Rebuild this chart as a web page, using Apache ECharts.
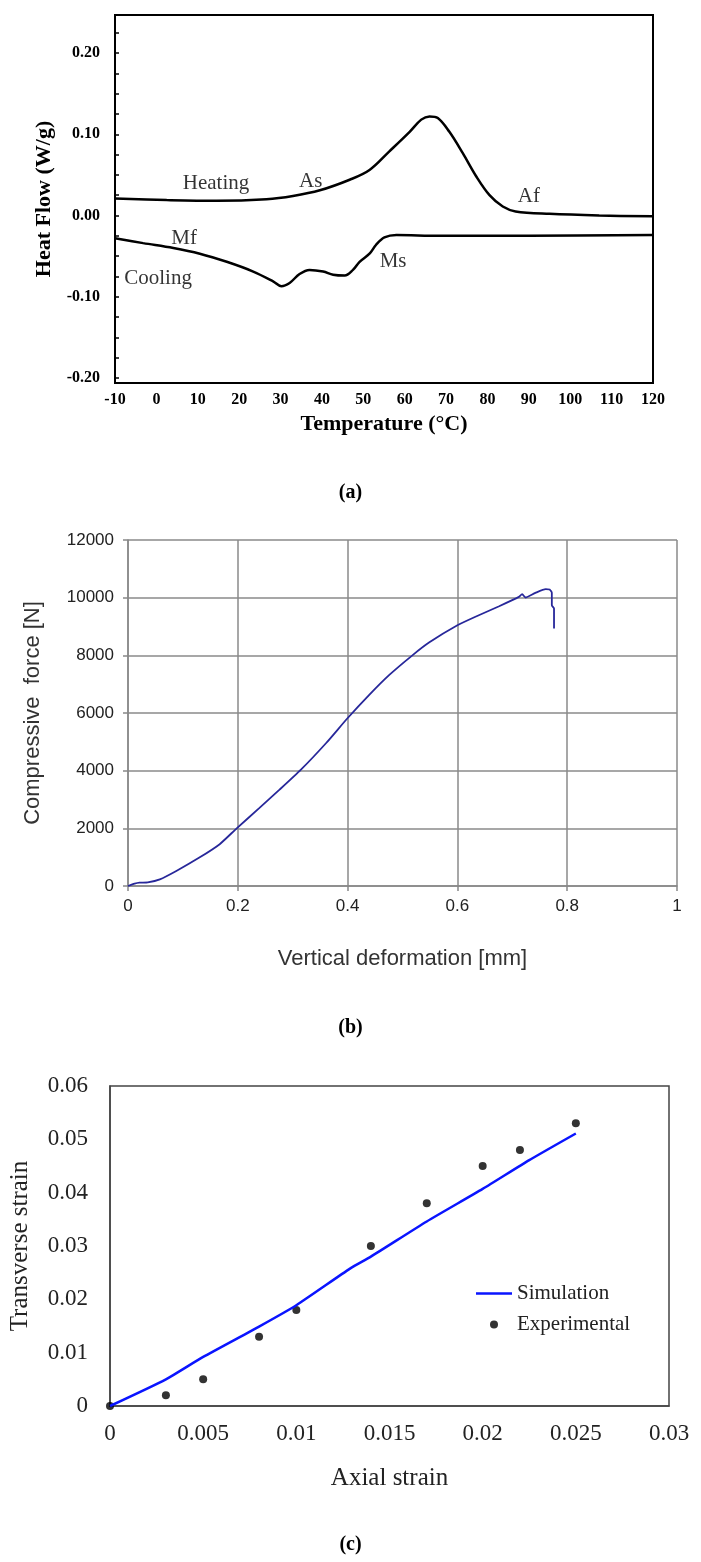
<!DOCTYPE html>
<html><head><meta charset="utf-8">
<script src="https://cdn.jsdelivr.net/npm/echarts@6/dist/echarts.min.js"></script>
<style>html,body{margin:0;padding:0;background:#fff}#c{width:701px;height:1562px}</style>
</head><body><div id="c"></div>
<script>
// ---------- Panel (a): DSC ----------
const tempHeating = [-10, 2.5, 14.5, 26.6, 33, 39.5, 46.7, 51.5, 56.3, 61.2, 64, 66, 68, 70.8, 74, 77.3, 80.5, 83.7, 86.8, 95, 107, 120];
const flowHeating = [0.021, 0.019, 0.018, 0.020, 0.024, 0.031, 0.044, 0.056, 0.079, 0.103, 0.118, 0.122, 0.120, 0.103, 0.077, 0.048, 0.025, 0.011, 0.005, 0.002, 0.000, -0.001];
const tempCooling = [-10, -3.2, 4.1, 10.5, 17, 23.4, 28.2, 30.2, 32.2, 34.6, 37, 40.3, 42.7, 45.5, 47.5, 49.1, 51.5, 53.1, 55.1, 58, 68.4, 90, 120];
const flowCooling = [-0.028, -0.034, -0.040, -0.047, -0.057, -0.069, -0.081, -0.087, -0.083, -0.072, -0.067, -0.069, -0.073, -0.074, -0.067, -0.057, -0.047, -0.036, -0.027, -0.024, -0.025, -0.025, -0.024];
const flowTickLabels = [-0.2, -0.1, 0, 0.1, 0.2];
const flowMinorTicks = [-0.2, -0.175, -0.15, -0.125, -0.1, -0.075, -0.05, -0.025, 0, 0.025, 0.05, 0.075, 0.1, 0.125, 0.15, 0.175, 0.2, 0.225];
const noteText = ['Heating', 'As', 'Af', 'Mf', 'Cooling', 'Ms'];
const noteTemp = [14.4, 37.3, 90, 6.7, 0.4, 57.2];
const noteFlow = [0.040, 0.042, 0.023, -0.028, -0.077, -0.057];

// ---------- Panel (b): compression ----------
const deformation = [0, 0.012, 0.021, 0.036, 0.058, 0.088, 0.130, 0.167, 0.198, 0.239, 0.276, 0.315, 0.361, 0.399, 0.439, 0.476, 0.518, 0.549, 0.600, 0.639, 0.676, 0.712, 0.718, 0.724, 0.742, 0.761, 0.768, 0.772, 0.772, 0.776, 0.776];
const force = [0, 81, 116, 128, 232, 522, 985, 1450, 2000, 2700, 3340, 4035, 4960, 5800, 6620, 7320, 8000, 8450, 9043, 9391, 9704, 10027, 10121, 10006, 10167, 10295, 10284, 10167, 9739, 9623, 8928];

// ---------- Panel (c): strain ----------
const simAxial = [0, 0.003, 0.005, 0.008, 0.010, 0.0129, 0.014, 0.017, 0.020, 0.0225, 0.025];
const simTransverse = [0, 0.0050, 0.0092, 0.0149, 0.0189, 0.0258, 0.0280, 0.0346, 0.0407, 0.0461, 0.0511];
const expAxial = [0, 0.003, 0.005, 0.008, 0.010, 0.014, 0.017, 0.020, 0.022, 0.025];
const expTransverse = [0, 0.002, 0.005, 0.013, 0.018, 0.030, 0.038, 0.045, 0.048, 0.053];

const zip = (a, b) => a.map((v, i) => [v, b[i]]);
const SERIF = 'Liberation Serif';
const SANS = 'Liberation Sans';
const captionStyle = {rich: {p: {fontFamily: SERIF, fontSize: 20, color: '#000'}, b: {fontFamily: SERIF, fontSize: 20, fontWeight: 'bold', color: '#000'}}};

const chart = echarts.init(document.getElementById('c'), null, {renderer: 'canvas'});
chart.setOption({
  animation: false,
  backgroundColor: '#fff',
  title: [
    {text: '{p|(}{b|a}{p|)}', left: 'center', top: 478, textStyle: captionStyle},
    {text: '{p|(}{b|b}{p|)}', left: 'center', top: 1013, textStyle: captionStyle},
    {text: '{p|(}{b|c}{p|)}', left: 'center', top: 1530, textStyle: captionStyle}
  ],
  legend: {
    left: 471, top: 1278, orient: 'vertical', itemWidth: 36, itemHeight: 8, itemGap: 10,
    textStyle: {fontFamily: SERIF, fontSize: 21, color: '#222'},
    data: [
      {name: 'Simulation', icon: 'path://M0,0H36V2.5H0Z', itemStyle: {color: '#0a14ff'}},
      {name: 'Experimental', icon: 'circle', itemStyle: {color: '#000'}}
    ]
  },
  grid: [
    {left: 115, top: 15, width: 538, height: 368, show: true, borderColor: '#000', borderWidth: 2, backgroundColor: 'transparent'},
    {left: 128, top: 540, width: 549, height: 346},
    {left: 110, top: 1086, width: 559, height: 320, show: true, borderColor: '#444', borderWidth: 1.5, backgroundColor: 'transparent'}
  ],
  xAxis: [
    {gridIndex: 0, type: 'value', min: -10, max: 120, interval: 10,
     name: 'Temperature (°C)', nameLocation: 'middle', nameGap: 30,
     nameTextStyle: {fontFamily: SERIF, fontWeight: 'bold', fontSize: 22, color: '#000'},
     axisLine: {onZero: false, lineStyle: {color: '#000', width: 2}}, axisTick: {show: false}, splitLine: {show: false},
     axisLabel: {fontFamily: SERIF, fontWeight: 'bold', fontSize: 16, color: '#000', margin: 9}},
    {gridIndex: 1, type: 'value', min: 0, max: 1, interval: 0.2,
     name: 'Vertical deformation [mm]', nameLocation: 'middle', nameGap: 62,
     nameTextStyle: {fontFamily: SANS, fontSize: 22, color: '#333'},
     axisLine: {onZero: false, lineStyle: {color: '#888', width: 1.5}}, axisTick: {show: true, length: 5, lineStyle: {color: '#888', width: 1.5}},
     splitLine: {show: true, lineStyle: {color: '#8a8a8a', width: 1.5}},
     axisLabel: {fontFamily: SANS, fontSize: 17, color: '#222', margin: 12}},
    {gridIndex: 2, type: 'value', min: 0, max: 0.03, interval: 0.005,
     name: 'Axial strain', nameLocation: 'middle', nameGap: 60,
     nameTextStyle: {fontFamily: SERIF, fontSize: 25, color: '#222'},
     axisLine: {onZero: false, lineStyle: {color: '#444', width: 1.5}}, axisTick: {show: false}, splitLine: {show: false},
     axisLabel: {fontFamily: SERIF, fontSize: 23, color: '#222', margin: 16}}
  ],
  yAxis: [
    {gridIndex: 0, type: 'value', min: -0.2062, max: 0.2468,
     name: 'Heat Flow (W/g)', nameLocation: 'middle', nameGap: 57,
     nameTextStyle: {fontFamily: SERIF, fontWeight: 'bold', fontSize: 22, color: '#000'},
     axisLine: {show: true, onZero: false, lineStyle: {color: '#000', width: 2}},
     axisTick: {show: true, inside: true, length: 4, customValues: flowMinorTicks, lineStyle: {color: '#000', width: 1.5}},
     splitLine: {show: false},
     axisLabel: {customValues: flowTickLabels, formatter: v => v.toFixed(2), fontFamily: SERIF, fontWeight: 'bold', fontSize: 16, color: '#000', margin: 15}},
    {gridIndex: 1, type: 'value', min: 0, max: 12000, interval: 2000,
     name: 'Compressive  force [N]', nameLocation: 'middle', nameGap: 84,
     nameTextStyle: {fontFamily: SANS, fontSize: 22, color: '#333'},
     axisLine: {show: true, onZero: false, lineStyle: {color: '#888', width: 1.5}}, axisTick: {show: true, length: 5, lineStyle: {color: '#888', width: 1.5}},
     splitLine: {show: true, lineStyle: {color: '#8a8a8a', width: 1.5}},
     axisLabel: {formatter: v => String(v), fontFamily: SANS, fontSize: 17, color: '#222', margin: 14}},
    {gridIndex: 2, type: 'value', min: 0, max: 0.06, interval: 0.01,
     name: 'Transverse strain', nameLocation: 'middle', nameGap: 77,
     nameTextStyle: {fontFamily: SERIF, fontSize: 25, color: '#222'},
     axisLine: {show: true, onZero: false, lineStyle: {color: '#444', width: 1.5}}, axisTick: {show: false}, splitLine: {show: false},
     axisLabel: {fontFamily: SERIF, fontSize: 23, color: '#222', margin: 22}}
  ],
  series: [
    {name: 'Heating', type: 'line', xAxisIndex: 0, yAxisIndex: 0, data: zip(tempHeating, flowHeating), symbol: 'none', smooth: 0.35, lineStyle: {color: '#000', width: 2.5}},
    {name: 'Cooling', type: 'line', xAxisIndex: 0, yAxisIndex: 0, data: zip(tempCooling, flowCooling), symbol: 'none', smooth: 0.35, lineStyle: {color: '#000', width: 2.5}},
    {name: 'notes', type: 'scatter', xAxisIndex: 0, yAxisIndex: 0, silent: true, symbolSize: 1, itemStyle: {color: 'rgba(0,0,0,0)'},
     data: noteText.map((t, i) => ({name: t, value: [noteTemp[i], noteFlow[i]]})),
     label: {show: true, position: 'inside', formatter: p => p.name, fontFamily: SERIF, fontSize: 21, color: '#000'}},
    {name: 'Force', type: 'line', xAxisIndex: 1, yAxisIndex: 1, data: zip(deformation, force), symbol: 'none', smooth: 0.2, lineStyle: {color: '#27279a', width: 1.8}},
    {name: 'Simulation', type: 'line', xAxisIndex: 2, yAxisIndex: 2, data: zip(simAxial, simTransverse), symbol: 'none', smooth: 0.2, lineStyle: {color: '#0a14ff', width: 2.5}, itemStyle: {color: '#0a14ff'}},
    {name: 'Experimental', type: 'scatter', xAxisIndex: 2, yAxisIndex: 2, data: zip(expAxial, expTransverse), symbolSize: 8, itemStyle: {color: '#000'}}
  ]
});
</script></body></html>
